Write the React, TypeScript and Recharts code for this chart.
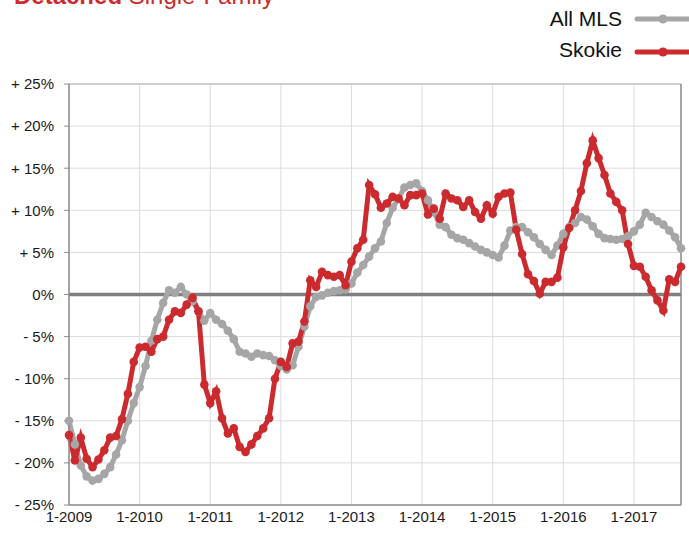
import React from 'react';
import { LineChart, Line, XAxis, YAxis, CartesianGrid, ReferenceLine } from 'recharts';

const years = [2009, 2010, 2011, 2012, 2013, 2014, 2015, 2016, 2017];
const monthLabels: string[] = [];
for (const y of years) for (let m = 1; m <= 12; m++) monthLabels.push(`${m}-${y}`);
const categories = monthLabels.slice(0, 105);

const allMLS = [
  -15.0, -17.8, -20.3, -21.6, -22.1, -21.9, -21.3, -20.5, -19.0, -17.3, -15.0, -12.9,
  -11.0, -8.5, -5.5, -3.0, -1.0, 0.5, 0.2, 0.9, 0.0, -0.8, -2.0, -3.1,
  -2.2, -3.0, -3.5, -4.3, -5.3, -6.8, -7.0, -7.4, -7.0, -7.2, -7.3, -7.8,
  -8.5, -8.9, -8.4, -6.2, -3.8, -1.4, -0.3, -0.1, 0.2, 0.4, 0.5, 0.6,
  1.3, 2.6, 3.5, 4.5, 5.5, 6.3, 8.5, 10.3, 11.4, 12.7, 13.0, 13.2,
  12.3, 11.2, 9.8, 8.3, 8.0, 7.1, 6.7, 6.5, 6.1, 5.7, 5.3, 5.0,
  4.7, 4.4, 5.8, 7.6, 8.0, 8.0, 7.4, 6.8, 6.0, 5.3, 4.7, 5.8,
  7.2, 8.0, 8.5, 9.2, 8.9, 8.1, 7.2, 6.7, 6.6, 6.5, 6.6, 6.9,
  7.5, 8.3, 9.7, 9.2, 8.7, 8.3, 7.6, 6.8, 5.5,
];

const skokie = [
  -16.7, -19.7, -17.0, -19.5, -20.5, -19.6, -18.5, -17.0, -16.8, -14.8, -11.8, -8.0,
  -6.3, -6.2, -6.8, -5.3, -5.0, -3.0, -2.0, -2.2, -1.2, -0.4, -2.0, -10.7,
  -12.9, -11.5, -14.7, -16.5, -15.9, -18.1, -18.7, -17.8, -16.8, -15.9, -14.7, -10.0,
  -8.0, -8.6, -5.8, -5.6, -3.2, 1.7, 0.9, 2.7, 2.3, 2.1, 2.3, 1.1,
  3.9, 5.5, 6.5, 13.0, 11.9, 10.3, 10.8, 11.6, 11.4, 10.6, 11.8, 11.8,
  12.0, 9.5, 10.2, 9.0, 12.0, 11.4, 11.2, 10.4, 11.2, 9.8, 9.0, 10.6,
  9.6, 11.6, 12.0, 12.1, 7.7, 4.8, 2.4, 1.6, 0.1, 1.5, 1.5, 2.0,
  5.6, 7.9, 10.0, 12.3, 15.6, 18.3, 16.2, 14.2, 12.0, 11.0, 10.0, 6.0,
  3.4, 3.3, 2.1, 0.5, -0.7, -1.9, 1.8, 1.5, 3.3,
];

const yTicks = [-25, -20, -15, -10, -5, 0, 5, 10, 15, 20, 25];

const data = categories.map((c, i) => ({ month: c, allMLS: allMLS[i], skokie: skokie[i] }));

const GRAY = '#A6A6A6';
const RED = '#CB2A2E';
const FONT = '"Liberation Sans", Arial, Helvetica, sans-serif';

const fmtY = (v: number) => (v > 0 ? `+ ${v}%` : v < 0 ? `- ${Math.abs(v)}%` : '0%');

export default function App() {
  return (
    <div style={{ position: 'absolute', left: 0, top: 0, width: 689, height: 533, background: '#fff', fontFamily: FONT }}>
      <LineChart
        width={689}
        height={533}
        data={data}
        margin={{ top: 84, right: 8, bottom: 0, left: 0 }}
        style={{ fontFamily: FONT }}
      >
        <CartesianGrid stroke="#DCDCDC" strokeWidth={1} />
        <XAxis
          dataKey="month"
          interval={11}
          tickLine={false}
          tickSize={0}
          tickMargin={6}
          height={28}
          axisLine={{ stroke: '#8C8C8C', strokeWidth: 1.5 }}
          tick={{ fill: '#1a1a1a', fontSize: 15 }}
        />
        <YAxis
          domain={[-25, 25]}
          ticks={yTicks}
          width={69}
          tickFormatter={fmtY}
          tickSize={5}
          tickMargin={10}
          tickLine={{ stroke: '#8C8C8C' }}
          axisLine={{ stroke: '#8C8C8C', strokeWidth: 1.5 }}
          tick={{ fill: '#1a1a1a', fontSize: 15 }}
          allowDataOverflow
        />
        <ReferenceLine y={25} stroke="#B0B0B0" strokeWidth={1} />
        <ReferenceLine x={categories[categories.length - 1]} stroke="#8C8C8C" strokeWidth={1.5} />
        <ReferenceLine y={0} stroke="#808080" strokeWidth={3.5} />
        <Line
          type="linear"
          dataKey="allMLS"
          stroke={GRAY}
          strokeWidth={5}
          dot={{ r: 4.3, fill: GRAY, stroke: 'none' }}
          isAnimationActive={false}
        />
        <Line
          type="linear"
          dataKey="skokie"
          stroke={RED}
          strokeWidth={5}
          dot={{ r: 4.3, fill: RED, stroke: 'none' }}
          isAnimationActive={false}
        />
      </LineChart>
      <svg
        width={689}
        height={533}
        style={{ position: 'absolute', left: 0, top: 0, pointerEvents: 'none', fontFamily: FONT }}
      >
        <text x={14} y={4} fill={RED} fontSize={24}>
          <tspan fontWeight="bold">Detached</tspan>
          <tspan> Single-Family</tspan>
        </text>
        <text x={622} y={26} textAnchor="end" fill="#111" fontSize={21}>All MLS</text>
        <line x1={637} y1={19} x2={700} y2={19} stroke={GRAY} strokeWidth={5} strokeLinecap="round" />
        <circle cx={663} cy={19} r={4.5} fill={GRAY} />
        <text x={622} y={57} textAnchor="end" fill="#111" fontSize={21}>Skokie</text>
        <line x1={637} y1={52} x2={700} y2={52} stroke={RED} strokeWidth={5} strokeLinecap="round" />
        <circle cx={663} cy={52} r={4.5} fill={RED} />
      </svg>
    </div>
  );
}
